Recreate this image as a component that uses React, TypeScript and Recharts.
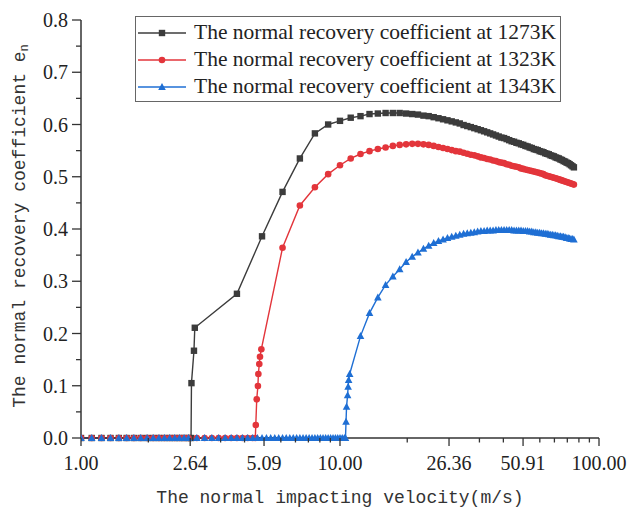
import React from 'react';
import { LineChart, Line, XAxis, YAxis, Legend } from 'recharts';

// velocities shared by all three curves
const lowVelocity = [1.0, 1.1, 1.2, 1.3, 1.4, 1.5, 1.6, 1.7, 1.8, 1.9, 2.0, 2.1, 2.2, 2.3, 2.4, 2.5, 2.6];
const lowZeros = [0, 0, 0, 0, 0, 0, 0, 0, 0, 0, 0, 0, 0, 0, 0, 0, 0];
const highVelocity = [
  13, 14, 15, 16, 17, 18, 19, 20,
  21, 22, 23, 24, 25, 26, 27, 28, 29, 30,
  31, 32, 33, 34, 35, 36, 37, 38, 39, 40,
  41, 42, 43, 44, 45, 46, 47, 48, 49, 50,
  51, 52, 53, 54, 55, 56, 57, 58, 59, 60,
  61, 62, 63, 64, 65, 66, 67, 68, 69, 70,
  71, 72, 73, 74, 75, 76, 77, 78, 79, 80,
];

// 1273K
const v1273 = [...lowVelocity, 2.66, 2.67, 2.73, 2.75, 4, 5, 6, 7, 8, 9, 10, 11, 12, ...highVelocity];
const e1273 = [
  ...lowZeros, 0, 0.105, 0.167, 0.211, 0.276, 0.386, 0.471, 0.535, 0.583, 0.6, 0.607, 0.613, 0.616,
  0.62, 0.621, 0.622, 0.622, 0.622, 0.621, 0.62, 0.619,
  0.617, 0.616, 0.614, 0.612, 0.61, 0.608, 0.606, 0.604, 0.602, 0.599,
  0.597, 0.595, 0.593, 0.591, 0.589, 0.587, 0.585, 0.583, 0.581, 0.579,
  0.577, 0.575, 0.574, 0.572, 0.57, 0.568, 0.567, 0.565, 0.564, 0.562,
  0.561, 0.559, 0.558, 0.556, 0.555, 0.553, 0.552, 0.551, 0.549, 0.548,
  0.547, 0.545, 0.544, 0.543, 0.541, 0.54, 0.539, 0.537, 0.536, 0.535,
  0.533, 0.532, 0.53, 0.529, 0.527, 0.526, 0.524, 0.522, 0.52, 0.518,
];

// 1323K
const v1323 = [
  ...lowVelocity, 2.8, 3.0, 3.2, 3.4, 3.6, 3.8, 4.0, 4.2, 4.4, 4.6,
  4.71, 4.73, 4.77, 4.82, 4.84, 4.88, 4.91, 4.97, 6, 7, 8, 9, 10, 11, 12, ...highVelocity,
];
const e1323 = [
  ...lowZeros, 0, 0, 0, 0, 0, 0, 0, 0, 0, 0,
  0, 0.025, 0.074, 0.0995, 0.1225, 0.1416, 0.1556, 0.17, 0.364, 0.445, 0.48, 0.505, 0.522, 0.535, 0.5435,
  0.549, 0.553, 0.556, 0.559, 0.561, 0.562, 0.563, 0.563,
  0.562, 0.561, 0.559, 0.557, 0.555, 0.553, 0.551, 0.549, 0.548, 0.546,
  0.544, 0.542, 0.541, 0.539, 0.537, 0.536, 0.534, 0.533, 0.531, 0.53,
  0.528, 0.527, 0.526, 0.524, 0.523, 0.521, 0.52, 0.519, 0.518, 0.516,
  0.515, 0.514, 0.513, 0.512, 0.511, 0.51, 0.509, 0.508, 0.507, 0.506,
  0.505, 0.503, 0.502, 0.501, 0.5, 0.499, 0.498, 0.497, 0.496, 0.495,
  0.494, 0.493, 0.492, 0.491, 0.49, 0.489, 0.488, 0.487, 0.486, 0.485,
];

// 1343K
const v1343 = [
  ...lowVelocity,
  2.8, 3.0, 3.2, 3.4, 3.6, 3.8, 4.0, 4.2, 4.4, 4.6,
  4.8, 5.0, 5.2, 5.4, 5.6, 5.8, 6.0, 6.2, 6.4, 6.6,
  6.8, 7.0, 7.2, 7.4, 7.6, 7.8, 8.0, 8.2, 8.4, 8.6,
  8.8, 9.0, 9.2, 9.4, 9.6, 9.8, 10.0, 10.2, 10.4,
  10.5, 10.55, 10.6, 10.7, 10.75, 10.8, 10.9, 12, ...highVelocity,
];
const e1343 = [
  ...lowZeros,
  0, 0, 0, 0, 0, 0, 0, 0, 0, 0,
  0, 0, 0, 0, 0, 0, 0, 0, 0, 0,
  0, 0, 0, 0, 0, 0, 0, 0, 0, 0,
  0, 0, 0, 0, 0, 0, 0, 0, 0,
  0, 0.031, 0.06, 0.082, 0.098, 0.111, 0.1225, 0.195,
  0.239, 0.269, 0.293, 0.309, 0.323, 0.337, 0.347, 0.355,
  0.362, 0.368, 0.373, 0.377, 0.38, 0.383, 0.385, 0.387, 0.389, 0.391,
  0.392, 0.393, 0.394, 0.395, 0.396, 0.396, 0.397, 0.397, 0.397, 0.398,
  0.398, 0.398, 0.398, 0.398, 0.398, 0.398, 0.397, 0.397, 0.397, 0.397,
  0.396, 0.396, 0.396, 0.395, 0.395, 0.394, 0.394, 0.393, 0.393, 0.392,
  0.392, 0.391, 0.391, 0.39, 0.389, 0.389, 0.388, 0.388, 0.387, 0.386,
  0.386, 0.385, 0.385, 0.384, 0.383, 0.383, 0.382, 0.381, 0.381, 0.38,
];

const xMajorTicks = [1, 2.64, 5.09, 10, 26.36, 50.91, 100];
const xMinorTicks = [1.82, 3.46, 4.28, 5.91, 6.73, 7.55, 8.36, 9.18, 18.18, 34.54, 42.73, 59.09, 67.27, 75.45, 83.64, 91.82];
const yMajorTicks = [0, 0.1, 0.2, 0.3, 0.4, 0.5, 0.6, 0.7, 0.8];
const yMinorTicks = [0.05, 0.15, 0.25, 0.35, 0.45, 0.55, 0.65, 0.75];

const zip = (v: number[], e: number[]) => v.map((x, i) => ({ v: x, e: e[i] }));

const series = [
  { name: 'The normal recovery coefficient at 1273K', data: zip(v1273, e1273), color: '#3c3c3c', shape: 'square' },
  { name: 'The normal recovery coefficient at 1323K', data: zip(v1323, e1323), color: '#e3353b', shape: 'circle' },
  { name: 'The normal recovery coefficient at 1343K', data: zip(v1343, e1343), color: '#1f6fd4', shape: 'triangle' },
];

const serif = '"Liberation Serif", "Times New Roman", serif';
const mono = '"Liberation Mono", "DejaVu Sans Mono", monospace';
const axisColor = '#333';

const Marker = ({ shape, cx, cy, color }: { shape: string; cx: number; cy: number; color: string }) => {
  if (shape === 'square') return <rect x={cx - 3.2} y={cy - 3.2} width={6.4} height={6.4} fill={color} />;
  if (shape === 'circle') return <circle cx={cx} cy={cy} r={3.3} fill={color} />;
  return <polygon points={`${cx},${cy - 4} ${cx + 3.8},${cy + 3} ${cx - 3.8},${cy + 3}`} fill={color} />;
};

const makeDot = (shape: string, color: string) => (props: any) => {
  const { cx, cy, index } = props;
  if (cx == null || cy == null) return <g key={index} />;
  return <Marker key={index} shape={shape} cx={cx} cy={cy} color={color} />;
};

const XTick = (props: any) => {
  const { x, y, payload } = props;
  const major = xMajorTicks.includes(payload.value);
  return (
    <g>
      <line x1={x} y1={y} x2={x} y2={y + (major ? 8 : 4.5)} stroke={axisColor} strokeWidth={1.3} />
      {major && (
        <text x={x} y={y + 32} textAnchor="middle" fontFamily={serif} fontSize={20} fill="#222">
          {payload.value.toFixed(2)}
        </text>
      )}
    </g>
  );
};

const YTick = (props: any) => {
  const { x, y, payload } = props;
  const major = yMajorTicks.includes(payload.value);
  return (
    <g>
      <line x1={x} y1={y} x2={x - (major ? 9 : 5)} y2={y} stroke={axisColor} strokeWidth={1.3} />
      {major && (
        <text x={x - 13} y={y + 7} textAnchor="end" fontFamily={serif} fontSize={20} fill="#222">
          {payload.value.toFixed(1)}
        </text>
      )}
    </g>
  );
};

const YTitle = (props: any) => {
  const { viewBox } = props;
  const cx = viewBox.x - 1;
  const cy = viewBox.y + viewBox.height / 2;
  return (
    <text transform={`translate(${cx},${cy - 3}) rotate(-90)`} textAnchor="middle" dominantBaseline="central"
      fontFamily={mono} fontSize={18} fill="#333">
      The normal recovery coefficient e<tspan dy={5} fontSize={12}>n</tspan>
    </text>
  );
};

const XTitle = (props: any) => {
  const { viewBox } = props;
  return (
    <text x={viewBox.x + viewBox.width / 2} y={viewBox.y + 65} textAnchor="middle" fontFamily={mono} fontSize={18} fill="#333">
      The normal impacting velocity(m/s)
    </text>
  );
};

const LegendBox = () => (
  <div style={{ border: '1px solid #666', background: '#fff', padding: '2px 4px 1px 2px', width: 418, boxSizing: 'content-box' }}>
    {series.map((s) => (
      <div key={s.name} style={{ display: 'flex', alignItems: 'center', height: 27 }}>
        <svg width={50} height={12} style={{ flex: 'none' }}>
          <line x1={0} y1={6} x2={48} y2={6} stroke={s.color} strokeWidth={1.5} />
          <Marker shape={s.shape} cx={24} cy={6} color={s.color} />
        </svg>
        <span style={{ fontFamily: serif, fontSize: 21.5, color: '#222', marginLeft: 6, whiteSpace: 'nowrap' }}>{s.name}</span>
      </div>
    ))}
  </div>
);

export default function App() {
  return (
    <div style={{ position: 'absolute', left: 0, top: 0, width: 630, height: 507, background: '#fff' }}>
      <LineChart width={630} height={507} margin={{ top: 20, right: 31, bottom: 19, left: 21 }}>
        <XAxis
          type="number"
          dataKey="v"
          scale="log"
          domain={[1, 100]}
          allowDataOverflow
          ticks={[...xMajorTicks, ...xMinorTicks]}
          interval={0}
          tick={XTick}
          tickLine={false}
          tickSize={0}
          tickMargin={0}
          height={50}
          axisLine={{ stroke: axisColor, strokeWidth: 1.5 }}
          label={{ content: XTitle }}
        />
        <YAxis
          type="number"
          domain={[0, 0.8]}
          ticks={[...yMajorTicks, ...yMinorTicks]}
          interval={0}
          tick={YTick}
          tickLine={false}
          tickSize={0}
          tickMargin={0}
          width={60}
          axisLine={{ stroke: axisColor, strokeWidth: 1.5 }}
          label={{ content: YTitle }}
        />
        <Legend
          layout="vertical"
          verticalAlign="middle"
          align="center"
          content={LegendBox}
          wrapperStyle={{ top: 16, left: 135, width: 'auto', height: 'auto' }}
        />
        {series.map((s) => (
          <Line
            key={s.name}
            data={s.data}
            dataKey="e"
            name={s.name}
            type="linear"
            stroke={s.color}
            strokeWidth={1.4}
            dot={makeDot(s.shape, s.color)}
            activeDot={false}
            isAnimationActive={false}
          />
        ))}
      </LineChart>
    </div>
  );
}
